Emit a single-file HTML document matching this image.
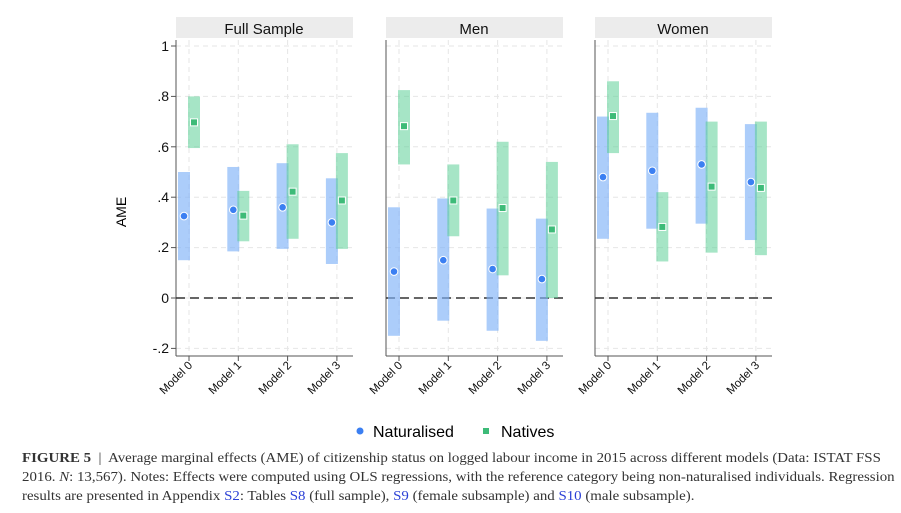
<!DOCTYPE html>
<html><head><meta charset="utf-8"><style>
body{margin:0;background:#fff;width:901px;height:513px;overflow:hidden;font-family:"Liberation Sans",sans-serif}
.cap{position:absolute;left:22px;top:449px;white-space:nowrap;font-family:"Liberation Serif",serif;font-size:14px;line-height:19px;color:#333;transform:scaleX(1.063);transform-origin:0 0}
.cap a{color:#2a3fd6;text-decoration:none}
</style></head><body>
<svg width="901" height="440" style="position:absolute;left:0;top:0" font-family="Liberation Sans, sans-serif">
<g id="panels"></g>
<g font-size="14" text-anchor="end" fill="#111">
<text x="169" y="51">1</text><text x="169" y="101">.8</text><text x="169" y="152">.6</text>
<text x="169" y="202">.4</text><text x="169" y="252">.2</text><text x="169" y="303">0</text>
<text x="169" y="353">-.2</text>
</g>
<text x="126" y="212" font-size="14" text-anchor="middle" transform="rotate(-90 126 212)">AME</text>
<g font-size="15" text-anchor="middle" fill="#111">
<text x="264" y="34">Full Sample</text><text x="474" y="34">Men</text><text x="683" y="34">Women</text>
</g>
<circle cx="360" cy="431" r="3.5" fill="#3b7ff2"/>
<text x="373" y="437" font-size="16">Naturalised</text>
<rect x="483" y="428" width="6" height="6" fill="#3dbb78"/>
<text x="501" y="437" font-size="16">Natives</text>
</svg>
<div class="cap"><b>FIGURE 5</b> &nbsp;|&nbsp; Average marginal effects (AME) of citizenship status on logged labour income in 2015 across different models (Data: ISTAT FSS<br>2016. <i>N</i>: 13,567). Notes: Effects were computed using OLS regressions, with the reference category being non-naturalised individuals. Regression<br>results are presented in Appendix <a>S2</a>: Tables <a>S8</a> (full sample), <a>S9</a> (female subsample) and <a>S10</a> (male subsample).</div>
<script>
var ns="http://www.w3.org/2000/svg";
function el(p,t,a){var e=document.createElementNS(ns,t);for(var k in a)e.setAttribute(k,a[k]);p.appendChild(e);return e;}
function Y(v){return 298-252*v;}
var g=document.getElementById("panels");
var lefts=[176,386,595];
var D=[
[[.15,.50,.325,.595,.80,.695],[.185,.52,.35,.225,.425,.325],[.195,.535,.36,.235,.61,.42],[.135,.475,.30,.195,.575,.385]],
[[-.15,.36,.105,.53,.825,.68],[-.09,.395,.15,.245,.53,.385],[-.13,.355,.115,.09,.62,.355],[-.17,.315,.075,0,.54,.27]],
[[.235,.72,.48,.575,.86,.72],[.275,.735,.505,.145,.42,.28],[.295,.755,.53,.18,.70,.44],[.23,.69,.46,.17,.70,.435]]];
lefts.forEach(function(L,p){
 el(g,"rect",{x:L,y:17,width:177,height:21,fill:"#ececec"});
 for(var v=-0.2;v<1.01;v+=0.2){var y=Y(v);el(g,"line",{x1:L,x2:L+177,y1:y,y2:y,stroke:"#e6e6e6","stroke-dasharray":"5,4"});}
 for(var k=0;k<4;k++){var x=L+13+49.3*k;el(g,"line",{x1:x,x2:x,y1:40,y2:356,stroke:"#e6e6e6","stroke-dasharray":"5,4"});}
 el(g,"line",{x1:L,x2:L,y1:40,y2:356,stroke:"#555","stroke-width":1});
 el(g,"line",{x1:L,x2:L+177,y1:356,y2:356,stroke:"#555","stroke-width":1});
 if(p==0){for(var v=-0.2;v<1.01;v+=0.2){var y=Y(v);el(g,"line",{x1:L-5,x2:L,y1:y,y2:y,stroke:"#555"});}}
 el(g,"line",{x1:L,x2:L+177,y1:298,y2:298,stroke:"#333","stroke-width":1.5,"stroke-dasharray":"9,5"});
 for(var k=0;k<4;k++){
  var x=L+13+49.3*k,d=D[p][k];
  el(g,"line",{x1:x,x2:x,y1:356,y2:361,stroke:"#555"});
  el(g,"rect",{x:x-11,y:Y(d[1]),width:12,height:Y(d[0])-Y(d[1]),fill:"#7fb2f7","fill-opacity":.65});
  el(g,"rect",{x:x-1,y:Y(d[4]),width:12,height:Y(d[3])-Y(d[4]),fill:"#5ccf98","fill-opacity":.55});
  el(g,"circle",{cx:x-5,cy:Y(d[2]),r:3.8,fill:"#3b7ff2",stroke:"#fff","stroke-width":1});
  el(g,"rect",{x:x+1.5,y:Y(d[5])-4,width:7,height:7,fill:"#3dbb78",stroke:"#fff","stroke-width":1});
 }
});
</script>
<svg width="901" height="440" style="position:absolute;left:0;top:0" font-family="Liberation Sans, sans-serif">
<g font-size="11.5" text-anchor="end" fill="#111">
<text transform="translate(193,366) rotate(-45)">Model 0</text>
<text transform="translate(242,366) rotate(-45)">Model 1</text>
<text transform="translate(292,366) rotate(-45)">Model 2</text>
<text transform="translate(341,366) rotate(-45)">Model 3</text>
<text transform="translate(403,366) rotate(-45)">Model 0</text>
<text transform="translate(452,366) rotate(-45)">Model 1</text>
<text transform="translate(502,366) rotate(-45)">Model 2</text>
<text transform="translate(551,366) rotate(-45)">Model 3</text>
<text transform="translate(612,366) rotate(-45)">Model 0</text>
<text transform="translate(661,366) rotate(-45)">Model 1</text>
<text transform="translate(711,366) rotate(-45)">Model 2</text>
<text transform="translate(760,366) rotate(-45)">Model 3</text>
</g>
</svg>
</body></html>
